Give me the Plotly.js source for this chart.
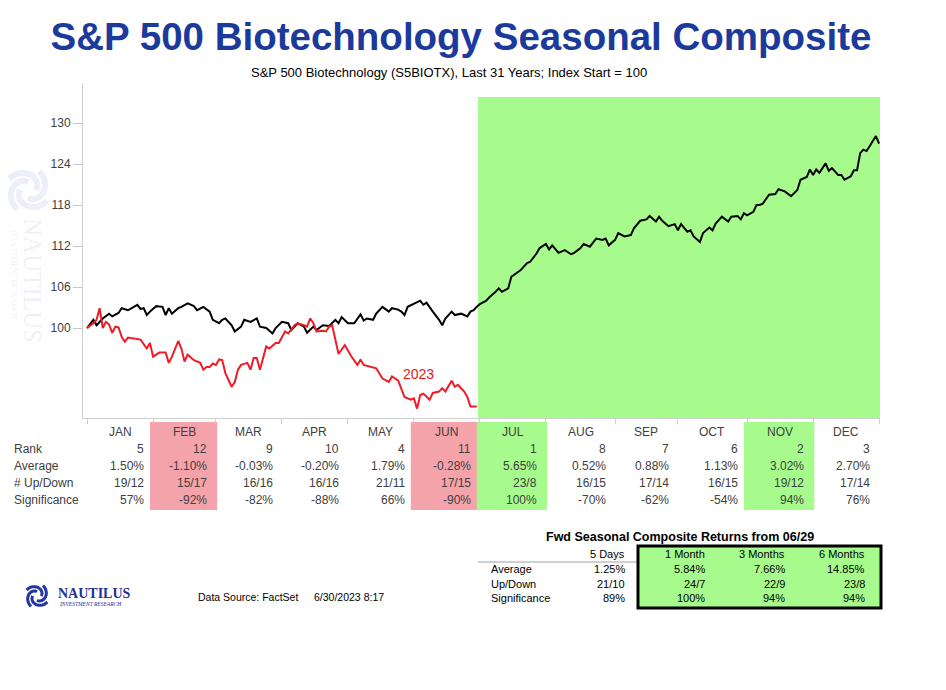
<!DOCTYPE html>
<html><head><meta charset="utf-8">
<script src="https://cdn.plot.ly/plotly-3.0.1.min.js"></script>
<style>body{margin:0;background:#fff}#chart{width:946px;height:690px}</style>
</head><body><div id="chart"></div>
<script>
// ---- DATA ----
const compositeDays = [0,2,3,5,7,8,10,11,13,16,17,18,19,20,22,24,25,26,27,29,30,32,34,35,37,39,40,42,43,44,46,47,49,50,52,54,55,57,59,60,62,64,65,67,69,70,72,73,75,77,79,80,81,83,85,87,88,89,91,92,94,96,97,99,100,101,102,104,106,107,108,110,112,113,114,116,117,119,121,122,123,124,125,127,128,130,131,132,134,135,137,138,140,141,143,144,146,147,148,150,152,154,155,157,158,160,162,164,165,166,168,169,171,173,174,176,178,179,181,182,183,185,187,188,189,191,192,193,195,196,198,199,200,202,204,205,207,208,209,210,212,213,214,215,217,219,220,222,224,226,227,229,230,231,232,233,235,236,237,239,240,241,243,244,245,246,247,248,249,250,251,252];
const compositeValues = [100,101.2,100.4,101.4,102.1,101.7,102.2,102.9,102.6,103.4,102.8,102.9,101.9,102.4,103.2,103.1,101.9,102.9,102.1,102.9,103.1,103.6,103.2,102.6,103.1,102.4,101.2,100.7,101.2,101.4,100.4,99.5,100.2,101.2,100.9,101.4,100.2,100.0,99.2,100.0,100.9,100.7,99.7,100.7,100.2,99.3,100.2,99.7,100.4,100.3,101.2,100.7,101.6,100.7,100.7,102.0,101.1,101.4,101.2,102.1,103.1,102.4,102.9,102.7,102.4,101.9,103.1,103.6,104.0,103.4,103.7,102.4,101.2,100.4,101.4,102.4,101.9,102.1,101.7,102.4,102.6,103.1,103.5,104.0,104.5,105.3,105.8,105.3,105.8,107.5,108.2,108.5,109.5,109.7,110.9,111.7,112.3,111.5,112.1,111.0,111.4,110.8,111.0,111.7,112.3,111.9,113.1,112.9,113.1,112.1,112.9,113.9,113.4,113.6,114.6,115.7,115.9,116.4,115.6,116.3,115.7,114.9,115.2,114.3,115.2,114.1,114.3,113.4,112.6,113.9,114.7,114.3,115.3,116.3,115.6,116.3,116.4,115.9,116.8,116.5,117.0,118.0,118.0,118.2,119.5,119.6,120.3,120.0,119.3,120.2,121.7,122.1,123.2,122.4,123.2,122.7,124.1,123.0,123.4,122.4,122.4,121.7,122.2,123.1,123.1,125.6,126.1,125.9,126.6,127.3,128.1,127.0];

const days2023 = [0,2,3,4,5,6,7,8,9,10,11,12,13,15,17,19,20,21,23,25,26,27,29,30,31,32,34,36,37,38,39,40,41,42,43,44,46,47,48,49,51,52,53,54,55,57,58,60,61,63,64,66,67,69,70,71,72,73,75,76,77,78,80,82,84,86,87,88,90,92,94,96,97,99,101,103,104,105,106,107,109,110,112,113,114,116,117,118,120,121,122,124];
const values2023 = [100,100.7,101.2,102.9,100.0,100.9,100.5,99.3,100.2,100.1,98.7,98.0,98.6,98.5,98.3,97.0,97.8,95.8,96.4,96.4,94.9,95.8,98.1,97.0,95.1,96.1,95.3,94.9,93.9,94.3,94.3,94.8,94.6,95.4,95.3,93.4,91.4,92.1,93.9,94.6,94.9,93.9,95.6,95.6,93.9,97.3,97.0,97.8,97.8,99.5,99.2,100.4,100.7,100.4,100.2,101.4,100.7,99.5,99.6,99.5,100.2,100.4,96.2,97.5,95.9,94.6,95.4,94.6,94.3,94.1,92.6,92.1,92.9,92.3,89.9,89.5,89.7,88.2,90.2,90.4,89.5,90.5,90.7,91.2,90.7,92.3,91.4,91.7,90.7,89.9,88.5,88.5];

const months = ['JAN','FEB','MAR','APR','MAY','JUN','JUL','AUG','SEP','OCT','NOV','DEC'];
const monthStarts = [0,21,41,62,83,104,125,146,168,188,210,231,252];
const monthRank = [5,12,9,10,4,11,1,8,7,6,2,3];
const monthAverage = [1.50,-1.10,-0.03,-0.20,1.79,-0.28,5.65,0.52,0.88,1.13,3.02,2.70];
const monthUpDown = ['19/12','15/17','16/16','16/16','21/11','17/15','23/8','16/15','17/14','16/15','19/12','17/14'];
const monthSignificance = [57,-92,-82,-88,66,-90,100,-70,-62,-54,94,76];
const yTicks = [100,106,112,118,124,130];

const fwdHeaders = ['5 Days','1 Month','3 Months','6 Months'];
const fwdAverage = [1.25,5.84,7.66,14.85];
const fwdUpDown = ['21/10','24/7','22/9','23/8'];
const fwdSignificance = [89,100,94,94];

// ---- LAYOUT HELPERS ----
const L=83,R=880,T=83,B=418;
const px = x => (x-L)/(R-L);
const py = y => (B-y)/(B-T);
const TXT = '#404040';
const FONT = 'Liberation Sans, Arial, sans-serif';
const PINK = '#f5a3ab', GREEN = '#a6fb8c';

const ann = [];
const shapes = [];

// seasonal highlight in chart
shapes.push({type:'rect', layer:'below', xref:'x', yref:'y', x0:124.4, x1:252.3, y0:86.83, y1:133.8, fillcolor:GREEN, line:{width:0}});

// month table
const rowY = [449,466,483,500];
const rowNames = ['Rank','Average','# Up/Down','Significance'];
rowNames.forEach((n,r)=>ann.push({xref:'paper',yref:'paper',x:px(12),y:py(rowY[r]),text:n,showarrow:false,xanchor:'left',yanchor:'middle',font:{size:12,color:TXT,family:FONT}}));
months.forEach((m,i)=>{
  const s=monthStarts[i], e=monthStarts[i+1];
  if (monthRank[i]>=11 || monthRank[i]<=2) {
    shapes.push({type:'rect', layer:'below', xref:'x', yref:'paper', x0:s-1, x1:e+0.4, y0:py(510), y1:py(422), fillcolor: monthRank[i]>=11?PINK:GREEN, line:{width:0}});
  }
  ann.push({xref:'x',yref:'paper',x:(s+e)/2,y:py(432),text:m,showarrow:false,xanchor:'center',yanchor:'middle',font:{size:12,color:TXT,family:FONT}});
  const vals=[String(monthRank[i]), monthAverage[i].toFixed(2)+'%', monthUpDown[i], monthSignificance[i]+'%'];
  vals.forEach((v,r)=>ann.push({xref:'x',yref:'paper',x:e,xshift:-7,y:py(rowY[r]),text:v,showarrow:false,xanchor:'right',yanchor:'middle',font:{size:12,color:TXT,family:FONT}}));
});

// 2023 label
ann.push({xref:'x',yref:'y',x:105.5,y:93.3,text:'2023',showarrow:false,xanchor:'center',yanchor:'middle',font:{size:14,color:'#e8141c',family:FONT}});

// subtitle
ann.push({xref:'paper',yref:'paper',x:px(449),y:py(72),text:'S&P 500 Biotechnology (S5BIOTX), Last 31 Years; Index Start = 100',showarrow:false,xanchor:'center',yanchor:'middle',font:{size:13,color:'#000',family:FONT}});

// forward table
shapes.push({type:'line',xref:'paper',yref:'paper',x0:px(478),x1:px(638),y0:py(562),y1:py(562),line:{color:'#a0a0a0',width:1}});
shapes.push({type:'rect',xref:'paper',yref:'paper',x0:px(638),x1:px(881),y0:py(608),y1:py(546),fillcolor:GREEN,line:{color:'#000',width:3}});
ann.push({xref:'paper',yref:'paper',x:px(680),y:py(537),text:'<b>Fwd Seasonal Composite Returns from 06/29</b>',showarrow:false,xanchor:'center',yanchor:'middle',font:{size:12.5,color:'#000',family:FONT}});
const fwdX=[626,706,786,866];
const fwdRowY=[569,584,598];
['Average','Up/Down','Significance'].forEach((n,r)=>ann.push({xref:'paper',yref:'paper',x:px(489),y:py(fwdRowY[r]),text:n,showarrow:false,xanchor:'left',yanchor:'middle',font:{size:11,color:'#000',family:FONT}}));
fwdHeaders.forEach((h,c)=>{
  ann.push({xref:'paper',yref:'paper',x:px(fwdX[c]+1),y:py(554),text:h,showarrow:false,xanchor:'right',yanchor:'middle',font:{size:11,color:'#000',family:FONT}});
  const vals=[fwdAverage[c].toFixed(2)+'%', fwdUpDown[c], fwdSignificance[c]+'%'];
  vals.forEach((v,r)=>ann.push({xref:'paper',yref:'paper',x:px(fwdX[c]+1),y:py(fwdRowY[r]),text:v,showarrow:false,xanchor:'right',yanchor:'middle',font:{size:11,color:'#000',family:FONT}}));
});

// footer
ann.push({xref:'paper',yref:'paper',x:px(196),y:py(597),text:'Data Source: FactSet',showarrow:false,xanchor:'left',yanchor:'middle',font:{size:10.5,color:'#000',family:FONT}});
ann.push({xref:'paper',yref:'paper',x:px(312),y:py(597),text:'6/30/2023 8:17',showarrow:false,xanchor:'left',yanchor:'middle',font:{size:10.5,color:'#000',family:FONT}});

// logo
function swirl(cx,cy,r,color,w){
  for(let k=0;k<4;k++){
    let d='';
    for(let j=0;j<=16;j++){
      const t=j/16;
      const a=(k*90+t*150)*Math.PI/180;
      const rr=r*(0.35+0.65*t);
      const x=cx+rr*Math.cos(a), y=cy-rr*Math.sin(a);
      d+=(j?' L':'M')+px(x).toFixed(5)+','+py(y).toFixed(5);
    }
    shapes.push({type:'path',xref:'paper',yref:'paper',path:d,line:{color:color,width:w}});
  }
}
swirl(37,596,12,'#2335a0',3);
swirl(28,190,22,'rgba(70,90,210,0.10)',6);
ann.push({xref:'paper',yref:'paper',x:px(56),y:py(593),text:'<b>NAUTILUS</b>',showarrow:false,xanchor:'left',yanchor:'middle',font:{size:14,color:'#23309a',family:'Liberation Serif, serif'}});
ann.push({xref:'paper',yref:'paper',x:px(57),y:py(603.5),text:'<i>INVESTMENT RESEARCH</i>',showarrow:false,xanchor:'left',yanchor:'middle',font:{size:5.5,color:'#23309a',family:'Liberation Serif, serif'}});
ann.push({xref:'paper',yref:'paper',x:px(33),y:py(281),text:'NAUTILUS',textangle:90,showarrow:false,xanchor:'center',yanchor:'middle',font:{size:25,color:'rgba(70,90,210,0.11)',family:'Liberation Serif, serif'}});
ann.push({xref:'paper',yref:'paper',x:px(14),y:py(274),text:'INVESTMENT RESEARCH',textangle:90,showarrow:false,xanchor:'center',yanchor:'middle',font:{size:7.5,color:'rgba(70,90,210,0.11)',family:'Liberation Serif, serif'}});

const traces = [
  {x:compositeDays, y:compositeValues, type:'scatter', mode:'lines', line:{color:'#000',width:2}, hoverinfo:'skip'},
  {x:days2023, y:values2023, type:'scatter', mode:'lines', line:{color:'#ee1c25',width:2}, hoverinfo:'skip'}
];

const layout = {
  width:946, height:690,
  margin:{l:L, r:946-R, t:T, b:690-B},
  paper_bgcolor:'#fff', plot_bgcolor:'#fff', showlegend:false,
  font:{family:FONT, color:TXT},
  title:{text:'<b>S&P 500 Biotechnology Seasonal Composite</b>', xref:'container', yref:'container', x:461/946, xanchor:'center', y:1-37/690, yanchor:'middle', font:{size:38.5, color:'#1b3a9c', family:FONT}},
  xaxis:{range:[-1.3,252.3], tickvals:monthStarts, showticklabels:false, ticks:'outside', ticklen:5, tickcolor:'#d0d0d0', showline:true, linecolor:'#d0d0d0', linewidth:1, showgrid:false, zeroline:false, fixedrange:true},
  yaxis:{range:[86.83,135.86], tickvals:yTicks, ticks:'outside', ticklen:9, tickcolor:'#c8c8c8', showline:true, linecolor:'#d0d0d0', linewidth:1, showgrid:false, zeroline:false, tickfont:{size:12,color:TXT,family:FONT}, fixedrange:true},
  shapes:shapes, annotations:ann
};
Plotly.newPlot('chart', traces, layout, {displayModeBar:false, staticPlot:true});
</script></body></html>
